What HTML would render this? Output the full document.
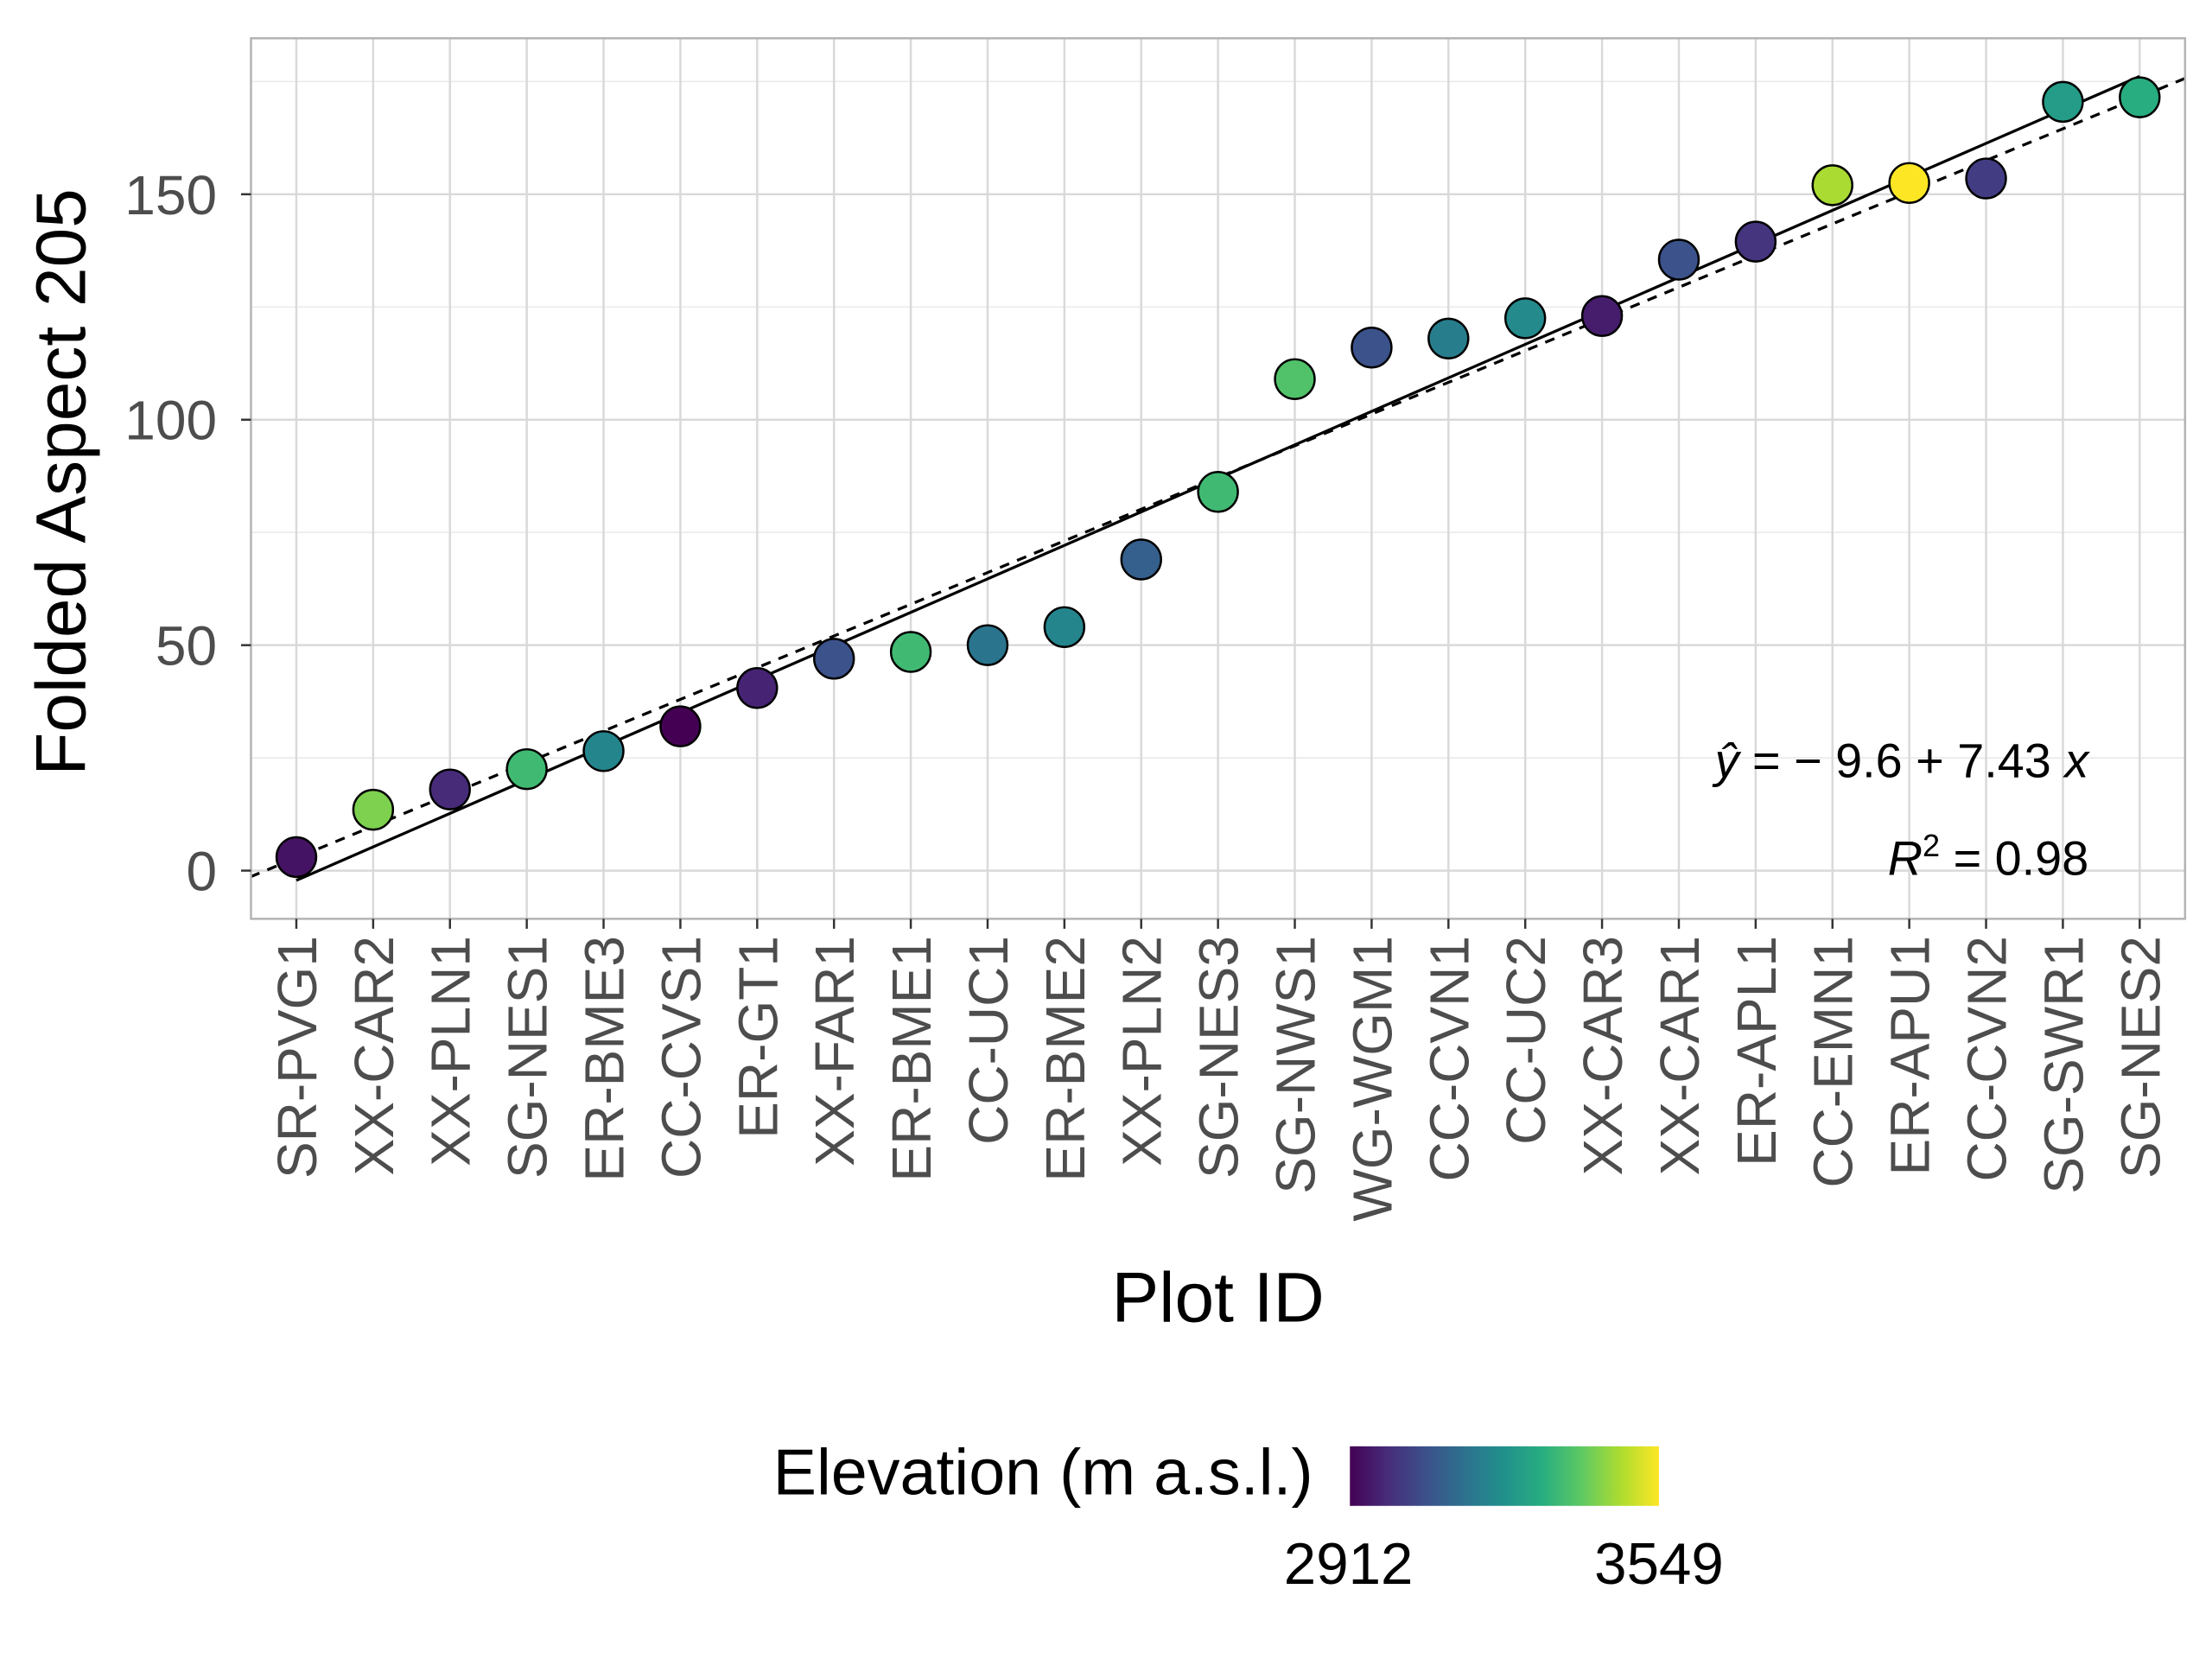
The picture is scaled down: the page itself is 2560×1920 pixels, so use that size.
<!DOCTYPE html>
<html><head><meta charset="utf-8"><style>
html,body{margin:0;padding:0;background:#fff;}
svg{display:block;}
text{font-family:"Liberation Sans",sans-serif;}
</style></head><body>
<svg id="chart" width="2560" height="1920" viewBox="0 0 1560 1170" preserveAspectRatio="none">
<defs>
<linearGradient id="vir" x1="0" x2="1" y1="0" y2="0">
<stop offset="0" stop-color="#440154"/><stop offset="0.125" stop-color="#472d7b"/><stop offset="0.25" stop-color="#3b528b"/><stop offset="0.375" stop-color="#2c728e"/><stop offset="0.5" stop-color="#21918c"/><stop offset="0.625" stop-color="#28ae80"/><stop offset="0.75" stop-color="#5ec962"/><stop offset="0.875" stop-color="#addc30"/><stop offset="1" stop-color="#fde725"/>
</linearGradient>
<clipPath id="pc"><rect x="177" y="27" width="1364" height="621"/></clipPath>
</defs>
<g id="grid"></g>
<g id="lines" clip-path="url(#pc)"></g>
<g id="pts"></g>
<rect x="177" y="27" width="1364" height="621" fill="none" stroke="#b3b3b3" stroke-width="1.5"/>
<g id="axes"></g>
<text x="0" y="0" transform="translate(60,340) rotate(-90)" text-anchor="middle" font-size="50" fill="#000">Folded Aspect 205</text>
<text x="859" y="932" text-anchor="middle" font-size="50" fill="#000">Plot ID</text>
<g>
<text x="1473" y="548" text-anchor="end" font-size="34" fill="#000"><tspan font-style="italic">ŷ</tspan> = − 9.6 + 7.43 <tspan font-style="italic">x</tspan></text>
<text x="1473" y="617" text-anchor="end" font-size="34" fill="#000"><tspan font-style="italic">R</tspan><tspan dy="-13" font-size="22">2</tspan><tspan dy="13"> = 0.98</tspan></text>
</g>
<g>
<text x="926" y="1054" text-anchor="end" font-size="46" fill="#000">Elevation (m a.s.l.)</text>
<rect x="952" y="1020" width="218" height="42" fill="url(#vir)"/>
<text x="951" y="1117" text-anchor="middle" font-size="41" fill="#000">2912</text>
<text x="1170" y="1117" text-anchor="middle" font-size="41" fill="#000">3549</text>
</g>
</svg>
<script>
const categories=["SR-PVG1","XX-CAR2","XX-PLN1","SG-NES1","ER-BME3","CC-CVS1","ER-GT1","XX-FAR1","ER-BME1","CC-UC1","ER-BME2","XX-PLN2","SG-NES3","SG-NWS1","WG-WGM1","CC-CVN1","CC-UC2","XX-CAR3","XX-CAR1","ER-APL1","CC-EMN1","ER-APU1","CC-CVN2","SG-SWR1","SG-NES2"];
const aspectValues=[3,13.5,18,22.5,26.5,32,40.5,47,48.5,50,54,69,84,109,116,118,122.5,123,135.5,139.5,152,152.5,153.5,170.5,171.5];
const elevations=[2944,3422,2988,3345,3200,2912,2976,3072,3345,3155,3200,3103,3345,3370,3072,3180,3212,2963,3072,3008,3466,3549,3027,3262,3307];
const yTicks=[0,50,100,150];
const yMinorTicks=[25,75,125,175];
const elevMin=2912, elevMax=3549;
const fitIntercept=-9.6, fitSlope=7.43;
const refIntercept=-4.2, refSlope=7.03;

const NS="http://www.w3.org/2000/svg";
function xs(i){return 209+(i-1)*(1300/24);}
function ys(v){return 614-v*(477/150);}
function mk(tag,attrs,parent){const e=document.createElementNS(NS,tag);for(const k in attrs)e.setAttribute(k,attrs[k]);parent.appendChild(e);return e;}
const stops=[[0,[68,1,84]],[0.125,[71,45,123]],[0.25,[59,82,139]],[0.375,[44,114,142]],[0.5,[33,145,140]],[0.625,[40,174,128]],[0.75,[94,201,98]],[0.875,[173,220,48]],[1,[253,231,37]]];
function vir(t){t=Math.max(0,Math.min(1,t));for(let i=1;i<stops.length;i++){if(t<=stops[i][0]){const a=stops[i-1],b=stops[i];const f=(t-a[0])/(b[0]-a[0]);const c=a[1].map((v,k)=>Math.round(v+(b[1][k]-v)*f));return `rgb(${c})`;}}return "rgb(253,231,37)";}

const grid=document.getElementById('grid');
yMinorTicks.forEach(v=>{const y=ys(v);if(y<27)return;const l=mk('line',{x1:177,x2:1541,y1:y,y2:y,stroke:'#ebebeb','stroke-width':1},grid);});
yTicks.forEach(v=>{const y=ys(v);const l=mk('line',{x1:177,x2:1541,y1:y,y2:y,stroke:'#d9d9d9','stroke-width':1.5},grid);});
categories.forEach((c,i)=>{const x=xs(i+1);const l=mk('line',{x1:x,x2:x,y1:27,y2:648,stroke:'#d9d9d9','stroke-width':1.5},grid);});

const axes=document.getElementById('axes');
yTicks.forEach(v=>{const y=ys(v);const t=mk('line',{x1:170,x2:177,y1:y,y2:y,stroke:'#333','stroke-width':1.5},axes);
const tx=mk('text',{x:153,y:y+14,'text-anchor':'end','font-size':39,fill:'#4d4d4d'},axes);tx.textContent=v;});
categories.forEach((c,i)=>{const x=xs(i+1);const t=mk('line',{x1:x,x2:x,y1:648,y2:655,stroke:'#333','stroke-width':1.5},axes);
const tx=mk('text',{x:0,y:0,transform:`translate(${x+14},660) rotate(-90)`,'text-anchor':'end','font-size':39,fill:'#4d4d4d'},axes);tx.textContent=c;});

const lines=document.getElementById('lines');
const x0=0.4,x1=25.6;
const dl=mk('line',{x1:xs(x0),y1:ys(refIntercept+refSlope*x0),x2:xs(x1),y2:ys(refIntercept+refSlope*x1),stroke:'#000','stroke-width':2,'stroke-dasharray':'7,6'},lines);

const sl=mk('line',{x1:xs(1),y1:ys(fitIntercept+fitSlope*1),x2:xs(25),y2:ys(fitIntercept+fitSlope*25),stroke:'#000','stroke-width':2},lines);


const pts=document.getElementById('pts');
aspectValues.forEach((v,i)=>{const c=mk('circle',{cx:xs(i+1),cy:ys(v),r:14,fill:vir((elevations[i]-elevMin)/(elevMax-elevMin)),stroke:'#000','stroke-width':1.5},pts);

});
</script>
</body></html>
